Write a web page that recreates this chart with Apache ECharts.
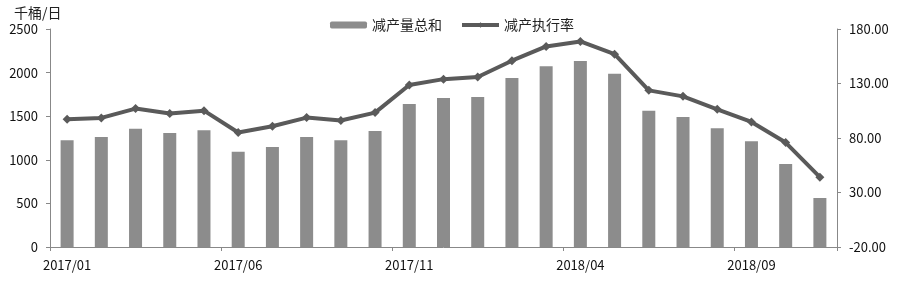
<!DOCTYPE html>
<html>
<head>
<meta charset="utf-8">
<script src="https://cdn.jsdelivr.net/npm/echarts@6/dist/echarts.min.js"></script>
<style>html,body{margin:0;padding:0;background:#fff}#c{width:900px;height:281px}</style>
</head>
<body>
<div id="c"></div>
<script>
const categories = ["2017/01","2017/02","2017/03","2017/04","2017/05","2017/06","2017/07","2017/08","2017/09","2017/10","2017/11","2017/12","2018/01","2018/02","2018/03","2018/04","2018/05","2018/06","2018/07","2018/08","2018/09","2018/10","2018/11"];
const cutTotal = [1224,1261,1357,1307,1338,1093,1147,1261,1224,1330,1640,1709,1720,1938,2072,2133,1987,1563,1491,1361,1212,952,562];
const complianceRate = [97.2,98.4,107.0,102.4,105.1,85.0,90.8,98.7,96.0,103.3,128.6,134.0,135.9,150.9,164.0,168.6,156.9,123.7,118.2,106.3,94.7,75.8,44.1];
const leftTicks = {min:0, max:2500, interval:500};
const rightTicks = {min:-20, max:180, interval:50};

const font = '"Noto Sans CJK SC", "Liberation Sans", sans-serif';
const chart = echarts.init(document.getElementById('c'), null, {renderer:'canvas'});
chart.setOption({
  animation:false,
  textStyle:{fontFamily:font},
  grid:{left:50, right:63, top:29, bottom:34, containLabel:false},
  legend:{
    left:325, top:13, itemGap:18, itemWidth:37, itemHeight:7,
    textStyle:{fontSize:14, color:'#222', fontFamily:font},
    data:[{name:'减产量总和'},{name:'减产执行率', lineStyle:{width:4, color:'#5a5a5a'}}]
  },
  xAxis:{
    type:'category', data:categories, boundaryGap:true,
    axisLine:{lineStyle:{color:'#888', width:1}},
    axisTick:{show:true, interval:4, length:4, lineStyle:{color:'#888'}},
    axisLabel:{interval:4, margin:12, fontSize:13, color:'#111', fontFamily:font},
    splitLine:{show:false}
  },
  yAxis:[
    {
      type:'value', min:leftTicks.min, max:leftTicks.max, interval:leftTicks.interval,
      name:'千桶/日', nameLocation:'end', nameGap:9,
      nameTextStyle:{fontSize:14, color:'#222', align:'left', padding:[0,0,0,-36], fontFamily:font},
      axisLine:{show:true, lineStyle:{color:'#888'}},
      axisTick:{show:true, length:4, lineStyle:{color:'#888'}},
      axisLabel:{fontSize:13, color:'#111', margin:12, fontFamily:font, formatter:v=>String(v)},
      splitLine:{show:false}
    },
    {
      type:'value', min:rightTicks.min, max:rightTicks.max, interval:rightTicks.interval,
      position:'right',
      axisLine:{show:true, lineStyle:{color:'#888'}},
      axisTick:{show:true, length:4, lineStyle:{color:'#888'}},
      axisLabel:{fontSize:13, color:'#111', margin:12, fontFamily:font, formatter:v=>v.toFixed(2)},
      splitLine:{show:false}
    }
  ],
  series:[
    {
      name:'减产量总和', type:'bar', data:cutTotal, yAxisIndex:0, barWidth:13,
      itemStyle:{color:'#8c8c8c'}
    },
    {
      name:'减产执行率', type:'line', data:complianceRate, yAxisIndex:1,
      symbol:'diamond', symbolSize:9,
      lineStyle:{color:'#5a5a5a', width:4},
      itemStyle:{color:'#5a5a5a'}
    }
  ]
});
</script>
</body>
</html>
